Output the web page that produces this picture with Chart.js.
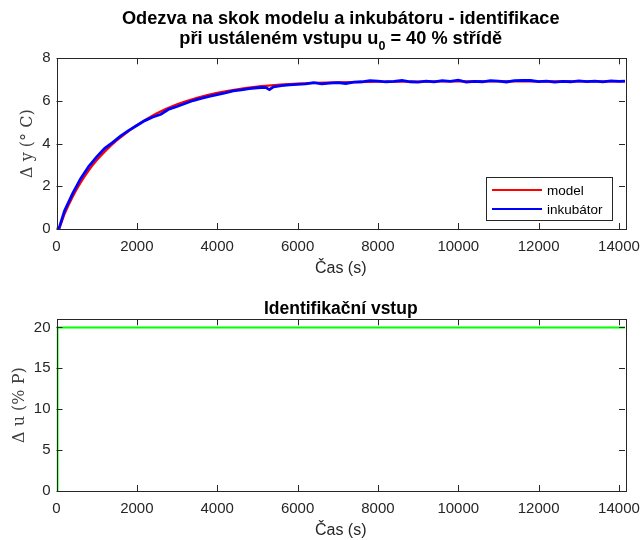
<!DOCTYPE html>
<html><head><meta charset="utf-8">
<script src="https://cdn.jsdelivr.net/npm/chart.js@4/dist/chart.umd.min.js"></script>
<style>
html,body{margin:0;padding:0;background:#fff;}
#w{position:relative;width:643px;height:540px;background:#fff;}
canvas{position:absolute;left:0;}
</style></head><body>
<div id="w">
<canvas id="c1" width="643" height="280" style="top:0px"></canvas>
<canvas id="c2" width="643" height="260" style="top:280px"></canvas>
</div>
<script>
// ---- data ----
const modelTime   = [0, 60, 200, 400, 600, 800, 1000, 1250, 1500, 1750, 2000, 2500, 3000, 3500, 4000, 4500, 5000, 5500, 6000, 7000, 8000, 9000, 10000, 12000, 14150];
const modelValues = [0, 0, 0.7, 1.5, 2.17, 2.74, 3.22, 3.72, 4.15, 4.52, 4.86, 5.42, 5.84, 6.15, 6.38, 6.55, 6.67, 6.75, 6.81, 6.87, 6.9, 6.91, 6.92, 6.92, 6.92];

const incubTime = [0, 60, 200, 400, 600, 800, 1000, 1200, 1400, 1600, 1800, 2000, 2200, 2400, 2600, 2800, 3000, 3200, 3400, 3600, 3800, 4000, 4200, 4400, 4600, 4800, 5000, 5200, 5300, 5400, 5600, 5800, 6000, 6200, 6400, 6600, 6800, 7000, 7200, 7400, 7600, 7800, 8000, 8200, 8400, 8600, 8800, 9000, 9200, 9400, 9600, 9800, 10000, 10200, 10400, 10600, 10800, 11000, 11200, 11400, 11600, 11800, 12000, 12200, 12400, 12600, 12800, 13000, 13200, 13400, 13600, 13800, 14000, 14150];
const incubValues = [0, 0.02, 0.85, 1.66, 2.36, 2.92, 3.38, 3.78, 4.06, 4.36, 4.62, 4.85, 5.08, 5.25, 5.38, 5.62, 5.74, 5.88, 6.02, 6.12, 6.22, 6.3, 6.38, 6.47, 6.52, 6.58, 6.62, 6.64, 6.53, 6.66, 6.72, 6.75, 6.78, 6.8, 6.86, 6.8, 6.84, 6.86, 6.82, 6.88, 6.9, 6.95, 6.93, 6.9, 6.92, 6.96, 6.9, 6.88, 6.93, 6.9, 6.95, 6.92, 6.98, 6.88, 6.92, 6.9, 6.95, 6.93, 6.89, 6.95, 6.97, 6.96, 6.91, 6.93, 6.88, 6.92, 6.9, 6.94, 6.91, 6.93, 6.9, 6.94, 6.92, 6.93];

const inputTime   = [0, 25, 25, 14150];
const inputValues = [0, 0, 20, 20];

const xTicks       = [0, 2000, 4000, 6000, 8000, 10000, 12000, 14000];
const yTicksTop    = [0, 2, 4, 6, 8];
const yTicksBottom = [0, 5, 10, 15, 20];
const seriesNames  = ['model', 'inkubátor'];

const X_MAX = 14150;
const AXC = '#262626';
const SANS = '"Liberation Sans", Arial, Helvetica, sans-serif';
const SERIF = '"DejaVu Serif", "Liberation Serif", serif';

function pts(t, v) { return t.map((x, i) => ({x: x, y: v[i]})); }

const frame = {
  id: 'frame',
  afterDraw(chart, args, o) {
    const {ctx, chartArea: a, scales: {x, y}} = chart;
    ctx.save();
    ctx.strokeStyle = AXC; ctx.lineWidth = 1;
    ctx.beginPath();
    o.xt.forEach(v => {
      const p = Math.round(x.getPixelForValue(v)) + 0.5;
      ctx.moveTo(p, a.bottom); ctx.lineTo(p, a.bottom - 6);
      ctx.moveTo(p, a.top); ctx.lineTo(p, a.top + 6);
    });
    o.yt.forEach(v => {
      const p = Math.round(y.getPixelForValue(v)) + 0.5;
      ctx.moveTo(a.left, p); ctx.lineTo(a.left + 6, p);
      ctx.moveTo(a.right, p); ctx.lineTo(a.right - 6, p);
    });
    ctx.stroke();
    ctx.strokeRect(Math.round(a.left) + 0.5, Math.round(a.top) + 0.5, Math.round(a.right - a.left), Math.round(a.bottom - a.top));
    // titles
    ctx.fillStyle = '#000';
    ctx.textBaseline = 'alphabetic';
    const cx = (a.left + a.right) / 2;
    (o.titles || []).forEach(tl => {
      if (tl.parts) {
        let w = 0;
        tl.parts.forEach(p => { ctx.font = 'bold ' + p.size + 'px ' + SANS; w += ctx.measureText(p.t).width; });
        let xx = cx - w / 2;
        ctx.textAlign = 'left';
        tl.parts.forEach(p => {
          ctx.font = 'bold ' + p.size + 'px ' + SANS;
          ctx.fillText(p.t, xx, tl.y + (p.dy || 0));
          xx += ctx.measureText(p.t).width;
        });
      } else {
        ctx.font = 'bold ' + tl.size + 'px ' + SANS;
        ctx.textAlign = 'center';
        ctx.fillText(tl.text, cx, tl.y);
      }
    });
    // legend
    if (o.legend) {
      const L = o.legend;
      ctx.fillStyle = '#fff';
      ctx.fillRect(L.x, L.y, L.w, L.h);
      ctx.strokeStyle = AXC;
      ctx.lineWidth = 1;
      ctx.strokeRect(L.x + 0.5, L.y + 0.5, L.w, L.h);
      ctx.font = '13.5px ' + SANS;
      ctx.textAlign = 'left';
      ctx.textBaseline = 'middle';
      chart.data.datasets.forEach((ds, i) => {
        const yy = L.y + L.r0 + i * L.dr;
        ctx.strokeStyle = ds.borderColor;
        ctx.lineWidth = 2;
        ctx.beginPath(); ctx.moveTo(L.x + 6, yy); ctx.lineTo(L.x + 56, yy); ctx.stroke();
        ctx.fillStyle = '#000';
        ctx.fillText(ds.label, L.x + 61, yy + 1);
      });
    }
    ctx.restore();
  }
};

function xScale(titlePadBottom, h) {
  return {
    type: 'linear', min: 0, max: X_MAX,
    afterBuildTicks: s => { s.ticks = xTicks.map(v => ({value: v})); },
    afterFit: s => { s.height = h; s.paddingLeft = 0; s.paddingRight = 0; },
    grid: {display: false, drawTicks: false},
    border: {display: false},
    ticks: {color: AXC, font: {family: SANS, size: 15}, padding: 9, maxRotation: 0, autoSkip: false,
            callback: v => String(v)},
    title: {display: true, text: 'Čas (s)', color: AXC, font: {family: SANS, size: 16}, padding: {top: 0, bottom: titlePadBottom}}
  };
}
function yScale(max, ticks, label, titlePad) {
  return {
    type: 'linear', min: 0, max: max,
    afterBuildTicks: s => { s.ticks = ticks.map(v => ({value: v})); },
    afterFit: s => { s.width = 56.5; s.paddingTop = 0; s.paddingBottom = 0; },
    grid: {display: false, drawTicks: false},
    border: {display: false},
    ticks: {color: AXC, font: {family: SANS, size: 15}, padding: 6, callback: v => String(v)},
    title: {display: true, text: label, color: '#404040', font: {family: SERIF, size: 16}, padding: {top: titlePad, bottom: 0}}
  };
}

new Chart(document.getElementById('c1'), {
  type: 'line',
  data: {
    datasets: [
      {label: seriesNames[0], data: pts(modelTime, modelValues), borderColor: '#ff0000', borderWidth: 2.2, pointRadius: 0, tension: 0.3, order: 1},
      {label: seriesNames[1], data: pts(incubTime, incubValues), borderColor: '#0000ff', borderWidth: 2.8, pointRadius: 0, tension: 0, order: 0}
    ]
  },
  options: {
    responsive: false, animation: false, devicePixelRatio: 1,
    parsing: false,
    layout: {padding: {left: 0, right: 18, top: 58.3, bottom: 0}},
    plugins: {
      legend: {display: false}, tooltip: {enabled: false},
      frame: {
        xt: xTicks, yt: yTicksTop,
        titles: [
          {text: 'Odezva na skok modelu a inkubátoru - identifikace', y: 24, size: 18.2},
          {y: 44, parts: [
            {t: 'při ustáleném vstupu u', size: 18.2},
            {t: '0', size: 12.5, dy: 6},
            {t: ' = 40 % střídě', size: 18.2}
          ]}
        ],
        legend: {x: 486, y: 177, w: 126, h: 43, r0: 13, dr: 19}
      }
    },
    scales: {x: xScale(2, 51), y: yScale(8, yTicksTop, 'Δ y (° C)', 18)}
  },
  plugins: [frame]
});

new Chart(document.getElementById('c2'), {
  type: 'line',
  data: {
    datasets: [
      {label: 'u', data: pts(inputTime, inputValues), borderColor: '#00ff00', borderWidth: 2, pointRadius: 0, tension: 0}
    ]
  },
  options: {
    responsive: false, animation: false, devicePixelRatio: 1,
    parsing: false,
    layout: {padding: {left: 0, right: 18, top: 39.3, bottom: 0}},
    plugins: {
      legend: {display: false}, tooltip: {enabled: false},
      frame: {
        xt: xTicks, yt: yTicksBottom,
        titles: [{text: 'Identifikační vstup', y: 34, size: 17.5}]
      }
    },
    scales: {x: xScale(0, 49), y: yScale(21, yTicksBottom, 'Δ u (% P)', 10)}
  },
  plugins: [frame]
});
</script>
</body></html>
